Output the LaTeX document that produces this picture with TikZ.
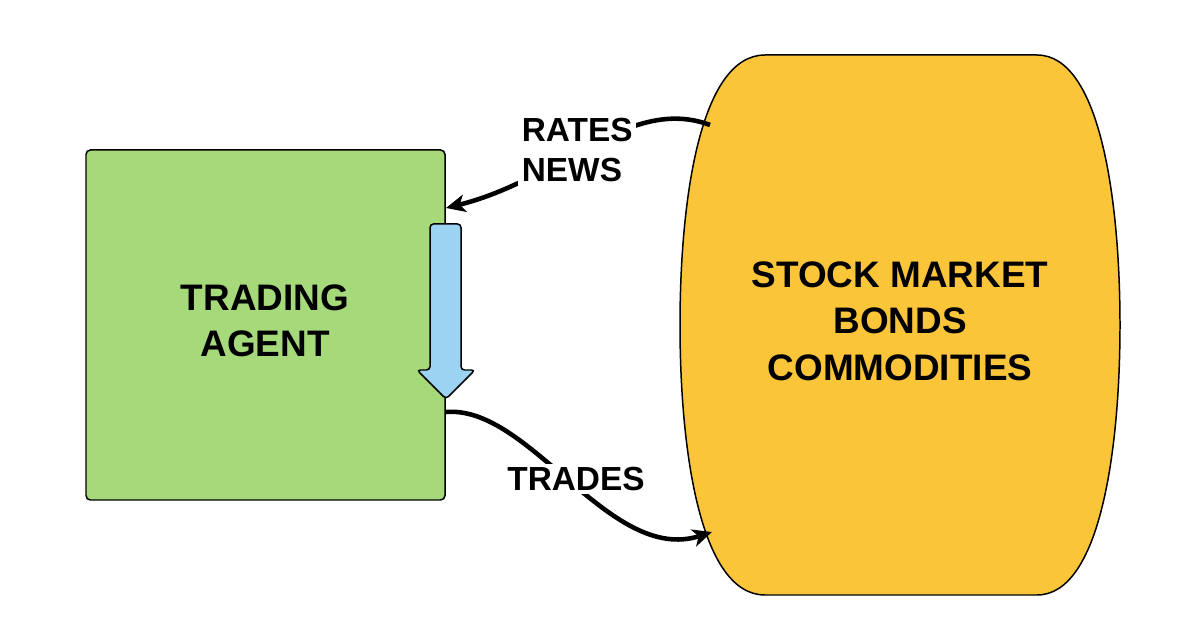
\documentclass[tikz,border=0pt]{standalone}
\usepackage{fontspec}
\setmainfont{Liberation Sans}
\usetikzlibrary{arrows.meta}

\definecolor{agentgreen}{HTML}{A6D97A}
\definecolor{marketgold}{HTML}{FBC53A}
\definecolor{signalblue}{HTML}{9DD3F2}

\begin{document}
\begin{tikzpicture} [x=0.02cm, y=-0.02cm,
  flow/.style={line width=2.6pt, -{Stealth[length=11pt, width=10pt, inset=3pt]}},
  bigtext/.style={font=\bfseries\fontsize{21}{26.5}\selectfont, align=center},
  flowtext/.style={font=\bfseries\fontsize{19}{23}\selectfont, fill=white, inner sep=2pt}]
\useasboundingbox (0,0) rectangle (1180,641);

% the agent
\draw 
[fill=agentgreen, line width=0.85pt, rounded corners=2.5pt] 
(86,150) rectangle (445,500);
\node [bigtext] (agent) at (265,321) {TRADING\\AGENT};

\draw [fill=signalblue, line width=0.85pt, rounded corners=2pt]
(430,224)--(461,224)--(461,370)--(475,370)--(446,399)--(417,370)--(430,370)--cycle;


% the market
\draw 
[fill=marketgold, line width=0.85pt] 
(765,55)--(1037,55) .. controls (1100,55) and (1120,200) .. (1120,325)
 .. controls (1120,450) and (1100,595) .. (1037,595)--(765,595)
 .. controls (700,595) and (680,450) .. (680,325)
 .. controls (680,200) and (700,55) .. (765,55);
\node [bigtext] (market) at (900,321) {STOCK MARKET\\BONDS\\COMMODITIES};


% the flows
\coordinate (out) at (710,125);
\coordinate (in) at (446,208);
\coordinate (send) at (446,412);
\coordinate (get) at (712,532);

\draw [flow] (out) .. controls (630,95) and (560,180) .. (in);
\node [flowtext, align=left, anchor=west] (rates) at (518,150) {RATES\\NEWS};

\draw [flow] (send) .. controls (530,405) and (610,565) .. (get);
\node [flowtext] (trades) at (576,479) {TRADES};

\end{tikzpicture}
\end{document}
